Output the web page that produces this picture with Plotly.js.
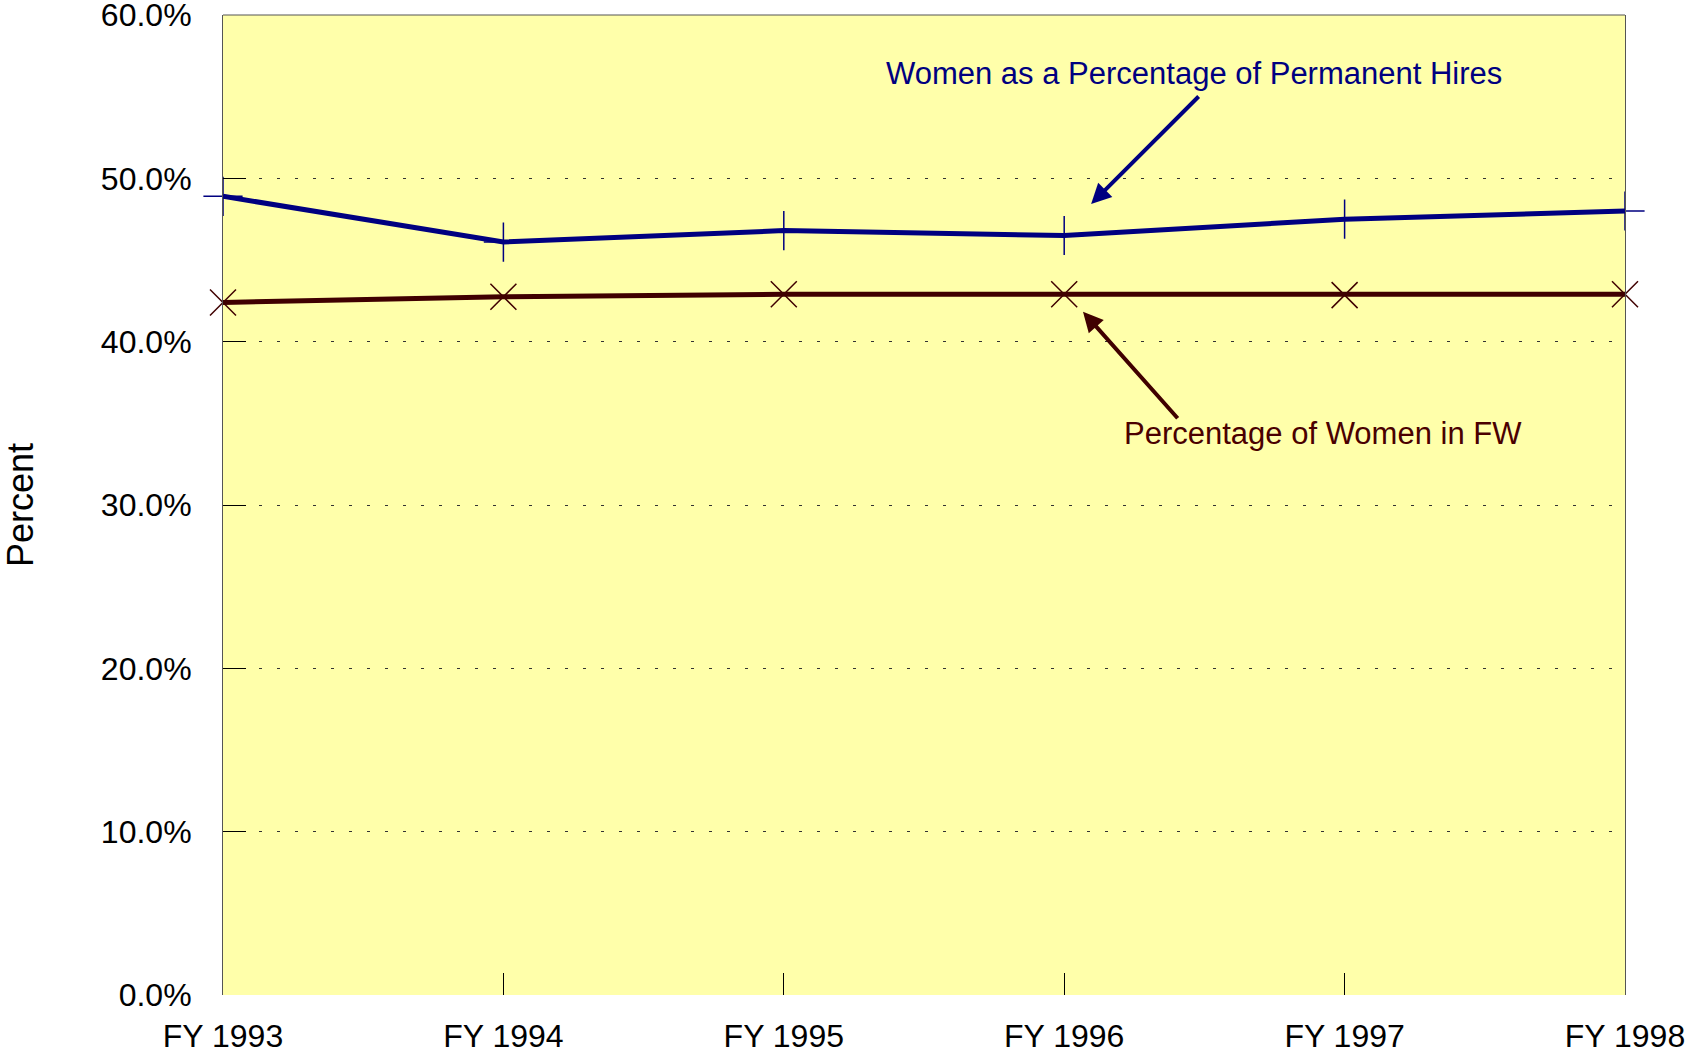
<!DOCTYPE html>
<html>
<head>
<meta charset="utf-8">
<script src="https://cdn.plot.ly/plotly-3.0.1.min.js"></script>
<style>html,body{margin:0;padding:0;background:#fff;}#chart{width:1686px;height:1053px;}</style>
</head>
<body>
<div id="chart"></div>
<script>
// Data
const years = ["FY 1993", "FY 1994", "FY 1995", "FY 1996", "FY 1997", "FY 1998"];
const hiresPct = [48.9, 46.1, 46.8, 46.5, 47.5, 48.0];   // Women as a Percentage of Permanent Hires
const fwPct = [42.4, 42.75, 42.9, 42.9, 42.85, 42.9];    // Percentage of Women in FW
const yTicks = [0, 10, 20, 30, 40, 50, 60];

const BLUE = "#000080";
const BROWN = "#400000";
const FONT = "Liberation Sans, Arial, Helvetica, sans-serif";

const traces = [
  {
    x: years, y: hiresPct, type: "scatter", mode: "lines+markers",
    name: "Women as a Percentage of Permanent Hires",
    line: {color: BLUE, width: 5},
    marker: {symbol: "cross-thin-open", size: 28, line: {color: "#1a1aa0", width: 1.5}},
    cliponaxis: false
  },
  {
    x: years, y: fwPct, type: "scatter", mode: "lines+markers",
    name: "Percentage of Women in FW",
    line: {color: BROWN, width: 5},
    marker: {symbol: "x-thin-open", size: 26, line: {color: "#4a0a0a", width: 1.5}},
    cliponaxis: false
  }
];

const layout = {
  width: 1686, height: 1053,
  margin: {l: 223, r: 61, t: 15, b: 58},
  paper_bgcolor: "#ffffff",
  plot_bgcolor: "#ffffaa",
  showlegend: false,
  font: {family: FONT, size: 32, color: "#000"},
  xaxis: {
    type: "category",
    range: [0, 5],
    showgrid: false,
    zeroline: false,
    showline: false,
    ticks: "inside", ticklen: 22, tickwidth: 1, tickcolor: "#000",
    ticklabelstandoff: 19,
    ticklabeloverflow: "allow",
    tickfont: {family: FONT, size: 32, color: "#000"}
  },
  yaxis: {
    range: [0, 60],
    tickvals: yTicks,
    ticktext: yTicks.map(v => v.toFixed(1) + "%"),
    showgrid: true, gridcolor: "#333", gridwidth: 1, griddash: "3px,15px",
    zeroline: false,
    showline: true, linecolor: "#555", linewidth: 1, mirror: true,
    ticks: "inside", ticklen: 23, tickwidth: 1, tickcolor: "#000",
    ticklabelstandoff: 24,
    ticklabeloverflow: "allow",
    tickfont: {family: FONT, size: 32, color: "#000"},
    title: {text: "Percent", font: {family: FONT, size: 36, color: "#000"}, standoff: 60}
  },
  shapes: [
    {type: "line", xref: "paper", yref: "paper", x0: 0, x1: 1, y0: 1, y1: 1, line: {color: "#555", width: 1}}
  ],
  annotations: [
    {xref: "x", yref: "y", x: 3.463, y: 56.4, text: "Women as a Percentage of Permanent Hires",
     showarrow: false, font: {family: FONT, size: 31, color: BLUE}},
    {xref: "x", yref: "y", x: 3.096, y: 48.43, text: "", showarrow: true,
     ax: 109, ay: -109, arrowhead: 2, arrowsize: 1, arrowwidth: 4, arrowcolor: BLUE, standoff: 0, startstandoff: 0},
    {xref: "x", yref: "y", x: 3.922, y: 34.35, text: "Percentage of Women in FW",
     showarrow: false, font: {family: FONT, size: 31, color: "#4a0000"}},
    {xref: "x", yref: "y", x: 3.067, y: 41.83, text: "", showarrow: true,
     ax: 96, ay: 108, arrowhead: 2, arrowsize: 1, arrowwidth: 4, arrowcolor: BROWN, standoff: 0, startstandoff: 0}
  ]
};

Plotly.newPlot("chart", traces, layout, {displayModeBar: false, staticPlot: true});
</script>
</body>
</html>
